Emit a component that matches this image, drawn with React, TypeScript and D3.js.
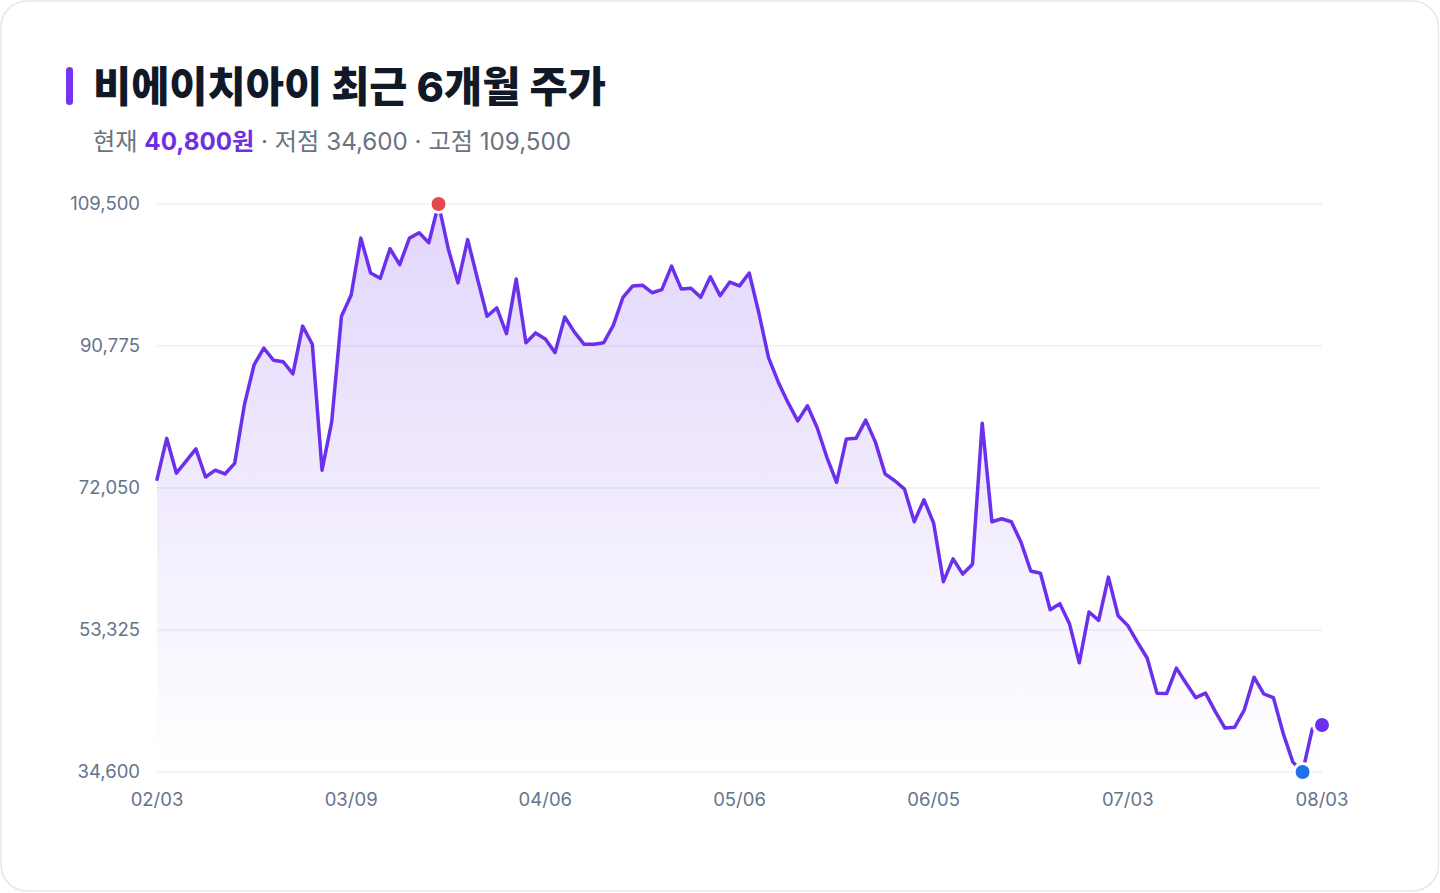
import React from 'react';
import { scaleLinear, line, area, format } from 'd3';

// 비에이치아이 daily closes, 02/03 ~ 08/03 (121 trading days)
const prices = [
    73200, 78600, 74000, 75600, 77200, 73500, 74400, 73900, 75300, 83000,
    88300, 90500, 88900, 88700, 87100, 93400, 91000, 74400, 80800, 94700,
    97500, 105000, 100400, 99700, 103600, 101500, 105000, 105700, 104400, 109500,
    103600, 99100, 104800, 99700, 94700, 95800, 92400, 99600, 91200, 92500,
    91700, 89900, 94600, 92600, 91000, 91000, 91200, 93500, 97200, 98700,
    98800, 97800, 98200, 101300, 98300, 98400, 97200, 99900, 97400, 99200,
    98700, 100400, 95100, 89200, 86000, 83300, 80900, 82900, 80000, 76100,
    72800, 78500, 78600, 81000, 78100, 73900, 73000, 71900, 67600, 70500,
    67400, 59700, 62700, 60700, 62000, 80600, 67600, 68000, 67600, 64900,
    61100, 60800, 56000, 56800, 54100, 49000, 55700, 54600, 60300, 55200,
    53900, 51700, 49600, 45000, 44950, 48300, 46300, 44400, 45000, 42600,
    40400, 40500, 42800, 47100, 44900, 44400, 39700, 35900, 34600, 40300,
    40800,
];

const dateTicks = ['02/03', '03/09', '04/06', '05/06', '06/05', '07/03', '08/03'];
const tickStep = 20;
const priceTicks = [34600, 53325, 72050, 90775, 109500];

const W = 1440;
const H = 893;
const left = 157;
const right = 1322;
const top = 204;
const bottom = 772;

const purple = '#6b30ec';
const font = "Inter, 'Noto Sans CJK KR', 'Noto Sans', sans-serif";

export default function App() {
    const x = scaleLinear().domain([0, prices.length - 1]).range([left, right]);
    const y = scaleLinear().domain([priceTicks[0], priceTicks[priceTicks.length - 1]]).range([bottom, top]);
    const fmt = format(',');

    const linePath = line<number>()
        .x((d, i) => x(i))
        .y((d) => y(d))(prices) as string;
    const areaPath = area<number>()
        .x((d, i) => x(i))
        .y0(bottom)
        .y1((d) => y(d))(prices) as string;

    const hi = Math.max(...prices);
    const lo = Math.min(...prices);
    const hiIdx = prices.indexOf(hi);
    const loIdx = prices.lastIndexOf(lo);
    const lastIdx = prices.length - 1;
    const last = prices[lastIdx];

    return (
        <>
            <style>{`body{margin:0}`}</style>
            <svg width={W} height={H} style={{ display: 'block', fontFamily: font }}>
                <defs>
                    <linearGradient id="fillGrad" x1="0" y1={top} x2="0" y2={bottom} gradientUnits="userSpaceOnUse">
                        <stop offset="0%" stopColor={purple} stopOpacity={0.2} />
                        <stop offset="100%" stopColor={purple} stopOpacity={0} />
                    </linearGradient>
                </defs>
                <rect x={1} y={1} width={W - 2.5} height={H - 3} rx={26} fill="#fff" stroke="#e6e7eb" strokeWidth={1.5} />

                {/* title */}
                <rect x={66} y={67} width={7} height={38} rx={3.5} fill="#7336ee" />
                <text x={93} y={102} fontSize={41.5} fontWeight={800} fill="#111827">
                    비에이치아이 최근 6개월 주가
                </text>
                <text x={93} y={150} fontSize={24.2} fill="#6b7280">
                    현재 <tspan fontWeight={700} fill="#6d2fe0">{fmt(last)}원</tspan> · 저점 {fmt(lo)} · 고점 {fmt(hi)}
                </text>

                {/* grid + y labels */}
                {priceTicks.map((t) => (
                    <g key={t}>
                        <line x1={left} x2={right} y1={y(t)} y2={y(t)} stroke="#e5e7eb" strokeWidth={1} />
                        <text x={140} y={y(t)} dy="0.35em" textAnchor="end" fontSize={18.5} fill="#64748b">
                            {fmt(t)}
                        </text>
                    </g>
                ))}

                {/* x labels */}
                {dateTicks.map((d, i) => (
                    <text key={d} x={x(i * tickStep)} y={806} textAnchor="middle" fontSize={18.5} fill="#64748b">
                        {d}
                    </text>
                ))}

                <path d={areaPath} fill="url(#fillGrad)" />
                <path d={linePath} fill="none" stroke={purple} strokeWidth={3.5} strokeLinejoin="round" strokeLinecap="round" />

                <circle cx={x(hiIdx)} cy={y(hi)} r={8.5} fill="#e5484d" stroke="#fff" strokeWidth={3} />
                <circle cx={x(loIdx)} cy={y(lo)} r={8.5} fill="#1f72ea" stroke="#fff" strokeWidth={3} />
                <circle cx={x(lastIdx)} cy={y(last)} r={8.5} fill={purple} stroke="#fff" strokeWidth={3} />
            </svg>
        </>
    );
}
